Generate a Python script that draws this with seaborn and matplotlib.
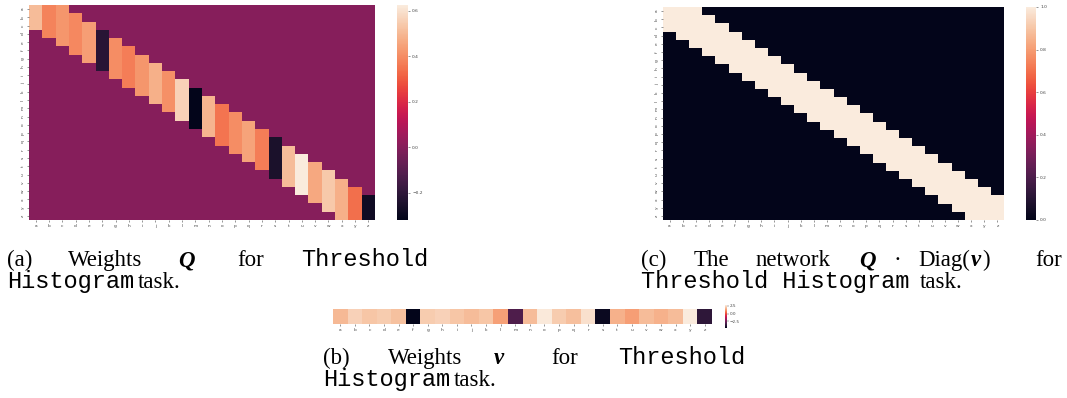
import numpy as np
import pandas as pd
import matplotlib
matplotlib.use("Agg")
import matplotlib.pyplot as plt
import seaborn as sns

letters = list("abcdefghijklmnopqrstuvwxyz")

# Weight of each output column of Q inside its diagonal band
q_band = [0.51, 0.38, 0.42, 0.39, 0.44, -0.22, 0.40, 0.37, 0.42, 0.48, 0.41, 0.56, -0.32,
          0.49, 0.35, 0.40, 0.45, 0.37, -0.25, 0.51, 0.625, 0.46, 0.54, 0.48, 0.34, -0.28]
q_off = 0.0
band_half_width = 2

# Weights v (one per letter)
v_weights = [1.75, 2.2, 1.97, 2.1, 1.9, -4.6, 2.1, 2.2, 1.97, 1.8, 1.97, 1.3, -3.1,
             1.8, 2.65, 2.1, 1.85, 2.5, -4.4, 1.6, 1.25, 1.8, 1.6, 1.8, 2.7, -3.7]

# Q . Diag(v) after thresholding: 1 inside the band, 0 outside
qv_band = 1.0
qv_off = 0.0


def banded(values, off):
    n = len(values)
    m = np.full((n, n), off, dtype=float)
    for j, val in enumerate(values):
        lo = max(0, j - band_half_width)
        hi = min(n, j + band_half_width + 1)
        m[lo:hi, j] = val
    return pd.DataFrame(m, index=letters, columns=letters)


Q = banded(q_band, q_off)
QV = banded([qv_band] * len(letters), qv_off)
V = pd.DataFrame([v_weights], columns=letters)

W, H = 1067, 398
fig = plt.figure(figsize=(W / 100, H / 100), dpi=100)


def box(x0, y0, x1, y1):
    return [x0 / W, 1 - y1 / H, (x1 - x0) / W, (y1 - y0) / H]


tick_kw = dict(labelsize=3.2, length=1.5, width=0.4, pad=1.5,
               colors="#444444")

# (a) weights Q
ax_a = fig.add_axes(box(29, 5, 375, 220))
cax_a = fig.add_axes(box(397, 5, 408, 220))
sns.heatmap(Q, ax=ax_a, cbar_ax=cax_a, cmap="rocket",
            xticklabels=letters, yticklabels=letters)
ax_a.tick_params(**tick_kw)
plt.setp(ax_a.get_yticklabels(), rotation=90, va="center")
plt.setp(ax_a.get_xticklabels(), rotation=0)
cax_a.tick_params(**tick_kw)
cax_a.set_yticks([-0.2, 0.0, 0.2, 0.4, 0.6])

# (c) Q . Diag(v)
ax_c = fig.add_axes(box(663, 7, 1004, 220))
cax_c = fig.add_axes(box(1026, 7, 1036, 220))
sns.heatmap(QV, ax=ax_c, cbar_ax=cax_c, cmap="rocket", vmin=0, vmax=1,
            xticklabels=letters, yticklabels=letters)
ax_c.tick_params(**tick_kw)
plt.setp(ax_c.get_yticklabels(), rotation=90, va="center")
plt.setp(ax_c.get_xticklabels(), rotation=0)
cax_c.tick_params(**tick_kw)
cax_c.set_yticks([0.0, 0.2, 0.4, 0.6, 0.8, 1.0])

# (b) weights v
ax_b = fig.add_axes(box(333, 309, 712, 324))
cax_b = fig.add_axes(box(725, 305, 726.5, 328))
sns.heatmap(V, ax=ax_b, cbar_ax=cax_b, cmap="rocket",
            xticklabels=letters, yticklabels=False)
ax_b.tick_params(**tick_kw)
plt.setp(ax_b.get_xticklabels(), rotation=0)
cax_b.tick_params(labelsize=3.0, length=1.2, width=0.3, pad=1,
                  colors="#444444")
cax_b.set_yticks([-2.5, 0.0, 2.5])

# captions
serif = "Liberation Serif"
mono = "Liberation Mono"
fs = 16.5
fs_mono = 17


def put(x, y, s, family=serif, **kw):
    size = fs_mono if family == mono else fs
    return fig.text(x / W, 1 - y / H, s, fontsize=size, family=family,
                    va="baseline", ha="left", color="black", **kw)


bold_it = dict(style="italic", weight="bold")

# (a)
put(7, 266, "(a)")
put(68, 266, "Weights")
put(178, 266, "Q", **bold_it)
put(237, 266, "for")
put(301, 266, "Threshold", family=mono)
put(7, 288, "Histogram", family=mono)
put(138, 288, "task.")

# (b)
put(323, 364, "(b)")
put(388, 364, "Weights")
put(494, 364, "v", **bold_it)
put(551, 364, "for")
put(618, 364, "Threshold", family=mono)
put(323, 386, "Histogram", family=mono)
put(454, 386, "task.")

# (c)
put(641, 266, "(c)")
put(694, 266, "The")
put(756, 266, "network")
put(859, 266, "Q", **bold_it)
put(893, 266, "\u00b7")
renderer = fig.canvas.get_renderer()
t = put(918, 266, "Diag(")
x_end = t.get_window_extent(renderer).x1
t = fig.text(x_end / W + 1 / W, 1 - 266 / H, "v", fontsize=fs, family=serif,
             va="baseline", ha="left", **bold_it)
x_end = t.get_window_extent(renderer).x1
fig.text(x_end / W + 1 / W, 1 - 266 / H, ")", fontsize=fs, family=serif,
         va="baseline", ha="left")
put(1035, 266, "for")
put(641, 288, "Threshold Histogram", family=mono)
put(920, 288, "task.")

fig.savefig("out.png", dpi=100)
